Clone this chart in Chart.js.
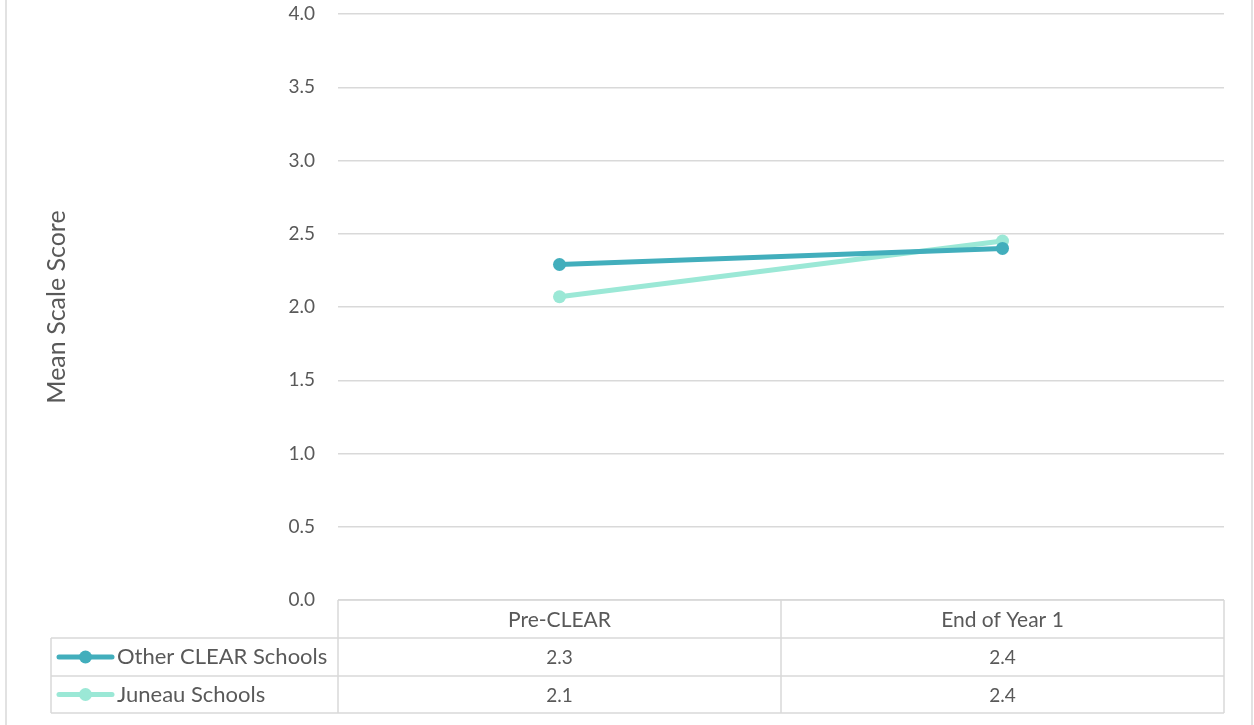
<!DOCTYPE html>
<html>
<head>
<meta charset="utf-8">
<script src="https://cdn.jsdelivr.net/npm/chart.js@4.4.1/dist/chart.umd.min.js"></script>
<style>
  html, body { margin: 0; padding: 0; background: #ffffff; }
  #wrap { width: 1254px; height: 725px; }
</style>
</head>
<body>
<div id="wrap"><canvas id="c" width="1254" height="725"></canvas></div>
<script>
const categories = ["Pre-CLEAR", "End of Year 1"];
const seriesNames = ["Other CLEAR Schools", "Juneau Schools"];
const otherValues = [2.29, 2.40];
const juneauValues = [2.07, 2.45];
const otherLabels = ["2.3", "2.4"];
const juneauLabels = ["2.1", "2.4"];
const yTicks = [0, 0.5, 1, 1.5, 2, 2.5, 3, 3.5, 4];
const colors = ["#42AEBC", "#9BE8D6"];

const FONT = "Lato, 'Open Sans', sans-serif";
const TEXT = "#595959";
const GRID = "#d9d9d9";

const tablePlugin = {
  id: 'dataTable',
  afterDraw(chart) {
    const ctx = chart.ctx;
    const area = chart.chartArea;
    const xs = chart.scales.x;
    const n = categories.length;
    const colW = (area.right - area.left) / n;
    const top = area.bottom;
    const rowH = [38, 38, 37];
    const y1 = top + rowH[0];
    const y2 = y1 + rowH[1];
    const y3 = y2 + rowH[2];
    const legLeft = 51;
    ctx.save();
    ctx.strokeStyle = GRID;
    ctx.lineWidth = 1.5;
    ctx.beginPath();
    ctx.moveTo(area.left, top); ctx.lineTo(area.right, top);
    ctx.moveTo(legLeft, y1); ctx.lineTo(area.right, y1);
    ctx.moveTo(legLeft, y2); ctx.lineTo(area.right, y2);
    ctx.moveTo(legLeft, y3); ctx.lineTo(area.right, y3);
    for (let i = 0; i <= n; i++) {
      const x = area.left + i * colW;
      ctx.moveTo(x, top); ctx.lineTo(x, y3);
    }
    ctx.moveTo(legLeft, y1); ctx.lineTo(legLeft, y3);
    ctx.stroke();

    ctx.beginPath();
    ctx.moveTo(6, 0); ctx.lineTo(6, 725);
    ctx.moveTo(1252, 0); ctx.lineTo(1252, 725);
    ctx.stroke();

    ctx.fillStyle = TEXT;
    ctx.textAlign = 'center';
    ctx.textBaseline = 'middle';
    ctx.font = "21px " + FONT;
    categories.forEach((c, i) => {
      ctx.fillText(c, xs.getPixelForValue(i), (top + y1) / 2 + 1);
    });
    ctx.font = "19px " + FONT;
    const rows = [otherLabels, juneauLabels];
    const ys = [(y1 + y2) / 2, (y2 + y3) / 2];
    rows.forEach((r, ri) => {
      r.forEach((v, i) => ctx.fillText(v, xs.getPixelForValue(i), ys[ri] + 1));
    });
    seriesNames.forEach((name, ri) => {
      const cy = ys[ri];
      ctx.strokeStyle = colors[ri];
      ctx.lineWidth = 5;
      ctx.lineCap = 'round';
      ctx.beginPath();
      ctx.moveTo(59, cy); ctx.lineTo(112, cy);
      ctx.stroke();
      ctx.fillStyle = colors[ri];
      ctx.beginPath();
      ctx.arc(85.5, cy, 6.5, 0, Math.PI * 2);
      ctx.fill();
      ctx.fillStyle = TEXT;
      ctx.textAlign = 'left';
      ctx.font = "22px " + FONT;
      ctx.fillText(name, 117, cy);
    });
    ctx.restore();
  }
};

new Chart(document.getElementById('c'), {
  type: 'line',
  data: {
    labels: categories,
    datasets: [
      {
        label: seriesNames[0], data: otherValues,
        borderColor: colors[0], backgroundColor: colors[0],
        borderWidth: 5, pointRadius: 6.5, pointHoverRadius: 6.5,
        pointBorderWidth: 0, fill: false, tension: 0
      },
      {
        label: seriesNames[1], data: juneauValues,
        borderColor: colors[1], backgroundColor: colors[1],
        borderWidth: 5, pointRadius: 6.5, pointHoverRadius: 6.5,
        pointBorderWidth: 0, fill: false, tension: 0
      }
    ]
  },
  options: {
    responsive: false,
    animation: false,
    events: [],
    layout: { padding: { top: 14, bottom: 125, left: 0, right: 30 } },
    plugins: { legend: { display: false }, tooltip: { enabled: false } },
    scales: {
      x: { type: 'category', display: false, offset: true },
      y: {
        min: 0, max: 4,
        afterFit: (s) => { s.width = 338; s.paddingTop = 0; s.paddingBottom = 0; },
        afterBuildTicks: (s) => { s.ticks = yTicks.map(v => ({ value: v })); },
        border: { display: false },
        grid: { color: GRID, lineWidth: 1.5, drawTicks: false },
        ticks: {
          padding: 23, color: TEXT,
          font: { family: FONT, size: 19 },
          callback: (v) => Number(v).toFixed(1)
        },
        title: {
          display: true, text: "Mean Scale Score", color: TEXT,
          font: { family: FONT, size: 25 },
          padding: { top: 42, bottom: 0 }
        }
      }
    }
  },
  plugins: [tablePlugin]
});
</script>
</body>
</html>
